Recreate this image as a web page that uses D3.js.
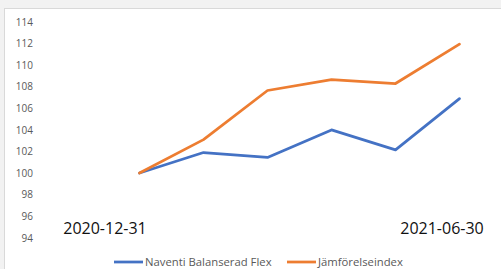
<!DOCTYPE html>
<html><head><meta charset="utf-8">
<script src="https://cdn.jsdelivr.net/npm/d3@7"></script>
<style>body{margin:0;background:#f2f2f2;}svg{display:block;}</style>
</head><body>
<script>
const categories = ["2020-12-31","2021-01-31","2021-02-28","2021-03-31","2021-04-30","2021-06-30"];
const shownLabels = ["2020-12-31","","","","","2021-06-30"];
const naventi = [100, 101.9, 101.45, 104.0, 102.15, 106.9];
const jamfor = [100, 103.1, 107.65, 108.65, 108.3, 111.95];
const yTicks = [94,96,98,100,102,104,106,108,110,112,114];
const seriesNames = ["Naventi Balanserad Flex","Jämförelseindex"];
const colors = ["#4472c4","#ed7d31"];

const W=501,H=269;
const svg=d3.select("body").append("svg").attr("width",W).attr("height",H);
svg.append("rect").attr("x",0).attr("y",0).attr("width",W).attr("height",H).attr("fill","#f2f2f2");
svg.append("rect").attr("x",4.5).attr("y",8.5).attr("width",W+10).attr("height",H+10).attr("fill","#fff").attr("stroke","#d9d9d9");

const x=d3.scalePoint().domain(categories).range([139.5,459.5]);
const y=d3.scaleLinear().domain([94,114]).range([237.8,22]);

const yAxis=svg.append("g").attr("transform","translate(33,0)")
  .call(d3.axisLeft(y).tickValues(yTicks).tickSize(0).tickPadding(0));
yAxis.select(".domain").remove();
yAxis.selectAll("text").attr("fill","#595959").style("font-family","'Open Sans', sans-serif").style("font-size","10px");

const xAxis=svg.append("g").attr("transform","translate(0,228)")
  .call(d3.axisBottom(x).tickSize(0).tickFormat((d,i)=>shownLabels[i]));
xAxis.select(".domain").remove();
xAxis.selectAll("text").attr("fill","#111").attr("dy",0).attr("y",5.5)
  .style("font-family","'Open Sans', sans-serif").style("font-size","16px")
  .attr("transform",(d,i)=> i===0 ? "translate(-35,0)" : "translate(-18,0)");

const line=d3.line().x((d,i)=>x(categories[i])).y(d=>y(d));
[naventi,jamfor].forEach((s,k)=>{
  svg.append("path").datum(s).attr("d",line).attr("fill","none")
    .attr("stroke",colors[k]).attr("stroke-width",2.75).attr("stroke-linejoin","round").attr("stroke-linecap","round");
});

const legX=[114,287];
seriesNames.forEach((n,k)=>{
  const g=svg.append("g").attr("transform",`translate(${legX[k]},262)`);
  g.append("line").attr("x1",0).attr("x2",29).attr("y1",0).attr("y2",0).attr("stroke",colors[k]).attr("stroke-width",2.75);
  g.append("text").attr("x",31).attr("y",4).text(n).attr("fill","#595959")
    .style("font-family","'Open Sans', sans-serif").style("font-size","11.3px");
});
</script>
</body></html>
